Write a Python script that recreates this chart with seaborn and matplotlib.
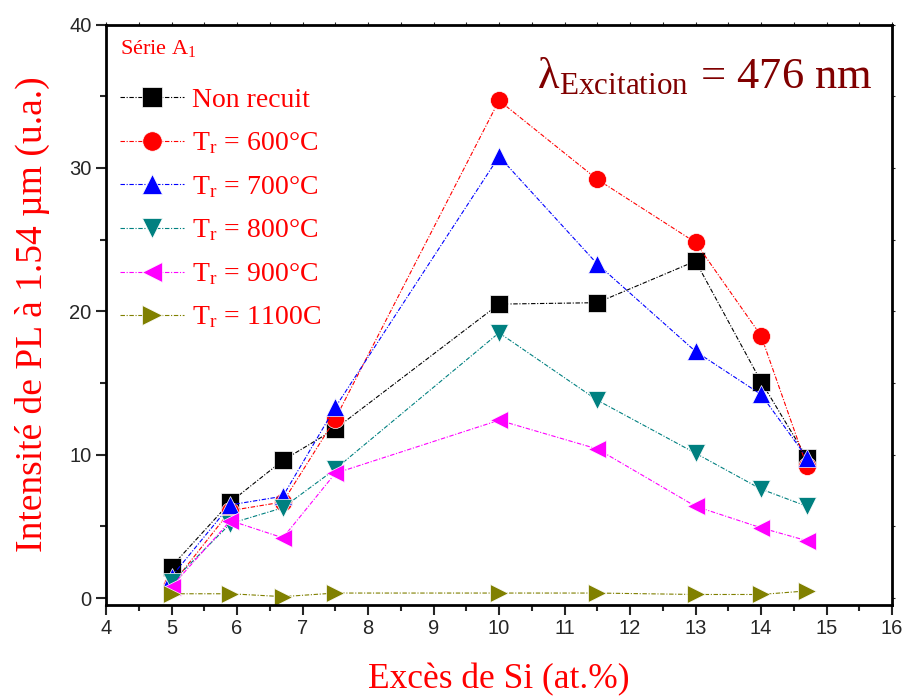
import numpy as np
import pandas as pd
import matplotlib
matplotlib.use("Agg")
import matplotlib.pyplot as plt
import seaborn as sns

# data
x_si = [5, 5.9, 6.7, 7.5, 10, 11.5, 13, 14, 14.7]
non_recuit = [2.2, 6.7, 9.6, 11.8, 20.5, 20.6, 23.5, 15.1, 9.8]
tr_600 = [0.9, 6.1, 6.7, 12.5, 34.7, 29.2, 24.8, 18.3, 9.2]
tr_700 = [1.5, 6.5, 7.1, 13.3, 30.8, 23.3, 17.2, 14.2, 9.8]
tr_800 = [1.1, 5.2, 6.3, 9.0, 18.5, 13.8, 10.1, 7.6, 6.4]
tr_900 = [0.8, 5.4, 4.2, 8.7, 12.4, 10.4, 6.4, 4.9, 4.0]
tr_1100 = [0.3, 0.3, 0.1, 0.35, 0.35, 0.35, 0.25, 0.25, 0.5]

labels = ["Non recuit",
          r"T$_\mathregular{r}$ = 600°C",
          r"T$_\mathregular{r}$ = 700°C",
          r"T$_\mathregular{r}$ = 800°C",
          r"T$_\mathregular{r}$ = 900°C",
          r"T$_\mathregular{r}$ = 1100C"]
series = [non_recuit, tr_600, tr_700, tr_800, tr_900, tr_1100]
colors = ["black", "#ff0000", "#0000ff", "#008080", "#ff00ff", "#808000"]
markers = ["s", "o", "^", "v", "<", ">"]

df = pd.DataFrame({
    "x": np.tile(x_si, len(series)),
    "y": np.concatenate(series),
    "serie": np.repeat(labels, len(x_si)),
})

sns.set_style("ticks")
plt.rcParams["font.family"] = ["Liberation Serif", "DejaVu Serif"]
plt.rcParams["mathtext.fontset"] = "stix"

fig = plt.figure(figsize=(9.07, 7.0), dpi=100)
ax = fig.add_axes([0.1169, 0.1364, 0.8666, 0.8286])

sns.lineplot(data=df, x="x", y="y", hue="serie", style="serie",
             hue_order=labels, style_order=labels,
             palette=dict(zip(labels, colors)),
             markers=dict(zip(labels, markers)),
             dashes=dict(zip(labels, [(4, 1.5, 1, 1.5)] * 6)),
             markersize=13, markeredgewidth=0.5, linewidth=0.8, ax=ax)

ax.set_xlim(4, 16)
ax.set_ylim(-0.45, 40)
ax.set_xticks(np.arange(4, 17, 1))
ax.set_xticks(np.arange(4.5, 16, 1), minor=True)
ax.set_yticks([0, 10, 20, 30, 40])
ax.set_yticks([5, 15, 25, 35], minor=True)

for lab in ax.get_xticklabels() + ax.get_yticklabels():
    lab.set_family(["Liberation Sans", "DejaVu Sans"])
    lab.set_fontsize(14.5)
ax.tick_params(which="major", direction="out", length=7, width=1.5,
               top=True, right=True)
ax.tick_params(which="minor", direction="out", length=4, width=1.5,
               top=True, right=True)
for t in (ax.xaxis.get_major_ticks() + ax.xaxis.get_minor_ticks()
          + ax.yaxis.get_major_ticks() + ax.yaxis.get_minor_ticks()):
    t.tick2line.set_markersize(2)
    t.tick2line.set_markeredgewidth(0.8)

for s in ax.spines.values():
    s.set_linewidth(2)
    s.set_color("black")

ax.set_xlabel("Excès de Si (at.%)", color="#ff0000", fontsize=25.5, labelpad=18)
ax.set_ylabel("Intensité de PL à 1.54 µm (u.a.)", color="#ff0000",
              fontsize=27, labelpad=14)

leg = ax.legend(title=r"Série A$_\mathregular{1}$", loc="upper left",
                frameon=False, fontsize=20, title_fontsize=16,
                handlelength=2.3, handletextpad=0.3, labelspacing=0.65,
                borderaxespad=0.1, borderpad=0.4)
leg._legend_box.align = "left"
leg._legend_box.sep = 20
leg.get_title().set_color("#ff0000")
for t in leg.get_texts():
    t.set_color("#ff0000")
for h in leg.legend_handles:
    h.set_markersize(14)

ax.text(0.975, 0.91, "λ$_\\mathregular{Excitation}$ = 476 nm",
        transform=ax.transAxes, ha="right", va="center",
        color="#800000", fontsize=32)

fig.savefig("out.png", dpi=100)
